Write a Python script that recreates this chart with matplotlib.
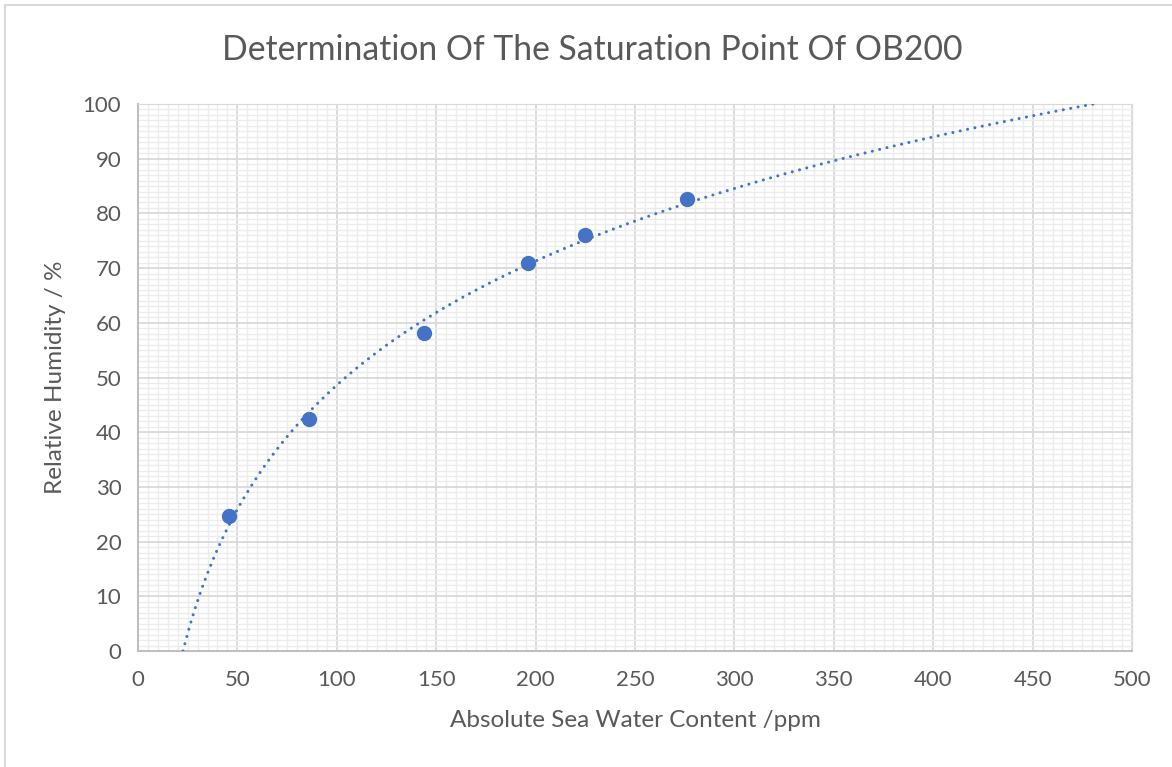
import numpy as np
import matplotlib
matplotlib.use("Agg")
import matplotlib.pyplot as plt
from matplotlib.patches import Rectangle
from matplotlib.ticker import MultipleLocator

# measured points
water_ppm = [46, 86, 144, 196, 225, 276]
humidity = [24.6, 42.5, 58.2, 71.0, 76.1, 82.6]

x_ticks = list(range(0, 501, 50))
y_ticks = list(range(0, 101, 10))

plt.rcParams["font.family"] = ["Lato", "DejaVu Sans"]
text_col = "#595959"
blue = "#4472C4"

fig = plt.figure(figsize=(11.72, 7.67), dpi=100)
ax = fig.add_axes([0.1177, 0.1512, 0.8482, 0.7132])

# chart area border (only left/top visible in crop)
fig.patches.append(Rectangle((5 / 1172, -0.05), 1.2, (767 - 5) / 767 + 0.05,
                             transform=fig.transFigure, fill=False,
                             edgecolor="#d9d9d9", linewidth=1.5))

# logarithmic trendline fitted to the points
a, b = np.polyfit(np.log(water_ppm), humidity, 1)
x0 = np.exp((0 - b) / a)
x1 = np.exp((100 - b) / a)
xs = np.linspace(x0, x1, 600)
ax.plot(xs, a * np.log(xs) + b, color=blue, linewidth=2.2,
        linestyle=(0, (0.01, 2.45)), dash_capstyle="round", zorder=3)

ax.plot(water_ppm, humidity, "o", color=blue, markersize=10, zorder=4)

ax.set_xlim(0, 500)
ax.set_ylim(0, 100)
ax.set_xticks(x_ticks)
ax.set_yticks(y_ticks)
ax.xaxis.set_minor_locator(MultipleLocator(5))
ax.yaxis.set_minor_locator(MultipleLocator(1))
ax.grid(which="minor", color="#ececec", linewidth=1.0)
ax.grid(which="major", color="#d9d9d9", linewidth=1.3)
ax.set_axisbelow(True)

for side in ["top", "right"]:
    ax.spines[side].set_color("#d9d9d9")
for side in ["left", "bottom"]:
    ax.spines[side].set_color("#bfbfbf")
    ax.spines[side].set_linewidth(1.5)

ax.tick_params(which="both", length=0, labelsize=16, labelcolor=text_col)
ax.tick_params(axis="x", pad=14)
ax.tick_params(axis="y", pad=12)

ax.set_xlabel("Absolute Sea Water Content /ppm", fontsize=17.5, color=text_col, labelpad=14)
ax.set_ylabel("Relative Humidity / %", fontsize=17.5, color=text_col, labelpad=12)
fig.text(0.505, 0.935, "Determination Of The Saturation Point Of OB200",
         ha="center", va="center", fontsize=24.3, color=text_col)

fig.savefig("out.png", dpi=100)
